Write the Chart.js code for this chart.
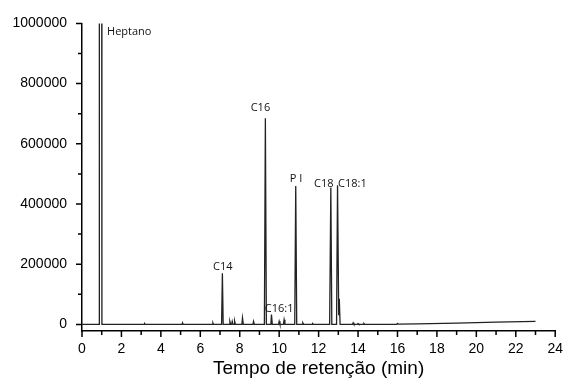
<!DOCTYPE html>
<html>
<head>
<meta charset="utf-8">
<script src="https://cdn.jsdelivr.net/npm/chart.js@4.4.1/dist/chart.umd.min.js"></script>
<style>
  html, body { margin: 0; padding: 0; background: #fff; }
  #wrap { width: 573px; height: 378px; }
</style>
</head>
<body>
<div id="wrap"><canvas id="chrom" width="573" height="378"></canvas></div>
<script>
// retention time (min) and detector signal
const times = [0, 0.87, 0.88, 1.0, 1.01, 3.15, 3.18, 3.21, 5.07, 5.1, 5.13, 6.61, 6.64, 6.67,
  7.08, 7.12, 7.16, 7.47, 7.5, 7.54, 7.59, 7.62, 7.66, 7.71, 7.74, 7.78, 8.11, 8.14, 8.18,
  8.67, 8.7, 8.74, 9.25, 9.3, 9.35, 9.58, 9.61, 9.65, 9.97, 10.0, 10.04, 10.22, 10.25, 10.29,
  10.79, 10.84, 10.89, 11.17, 11.2, 11.24, 11.67, 11.7, 11.74, 12.56, 12.62, 12.67,
  12.91, 12.96, 13.02, 13.05, 13.09, 13.72, 13.75, 13.79, 13.97, 14.0, 14.04, 14.27, 14.3, 14.34,
  15.0, 15.97, 16.0, 16.04, 17.0, 19.0, 21.0, 23.0];
const signal = [0, 0, 1200000, 1200000, 0, 0, 2500, 0, 0, 5000, 0, 0, 5000, 0,
  0, 170000, 0, 0, 10000, 0, 0, 10000, 0, 0, 11000, 0, 0, 21000, 0,
  0, 10000, 0, 0, 685000, 0, 0, 33000, 0, 0, 10000, 0, 0, 15000, 0,
  0, 460000, 0, 0, 5000, 0, 0, 2500, 0, 0, 455000, 0,
  0, 462000, 30000, 85000, 0, 0, 5000, 0, 0, 3000, 0, 0, 3000, 0,
  0, 500, 3000, 1000, 1500, 4000, 7500, 10000];

// peak labels
const peakNames = ['Heptano', 'C14', 'C16', 'P I', 'C18', 'C18:1', 'C16:1'];
const peakTimes = [1.27, 7.14, 9.05, 10.85, 12.26, 13.71, 10.0];
const peakLevels = [972000, 192000, 720000, 484000, 468000, 468000, 53000];

const xTicks = [0, 2, 4, 6, 8, 10, 12, 14, 16, 18, 20, 22, 24];
const yTicks = [0, 200000, 400000, 600000, 800000, 1000000];

const axisTicks = {
  id: 'axisTicks',
  afterDraw(chart) {
    const ctx = chart.ctx;
    const x = chart.scales.x, y = chart.scales.y;
    const area = chart.chartArea;
    ctx.save();
    ctx.strokeStyle = '#000';
    ctx.lineWidth = 1.5;
    ctx.beginPath();
    for (let v = 0; v <= 24; v++) {
      const px = x.getPixelForValue(v);
      ctx.moveTo(px, area.bottom);
      ctx.lineTo(px, area.bottom + (v % 2 === 0 ? 6 : 4));
    }
    for (let v = 0; v <= 1000000; v += 100000) {
      const py = y.getPixelForValue(v);
      ctx.moveTo(area.left, py);
      ctx.lineTo(area.left - (v % 200000 === 0 ? 6 : 4), py);
    }
    ctx.stroke();

    ctx.fillStyle = '#111';
    ctx.font = '11px "Open Sans", sans-serif';
    ctx.textBaseline = 'middle';
    peakNames.forEach((name, i) => {
      ctx.textAlign = i === 0 ? 'left' : 'center';
      ctx.fillText(name, x.getPixelForValue(peakTimes[i]), y.getPixelForValue(peakLevels[i]));
    });
    ctx.restore();
  }
};

new Chart(document.getElementById('chrom'), {
  type: 'line',
  data: {
    datasets: [{
      data: times.map((t, i) => ({ x: t, y: signal[i] })),
      borderColor: '#222',
      borderWidth: 1.3,
      pointRadius: 0,
      tension: 0,
      fill: false
    }]
  },
  options: {
    responsive: false,
    animation: false,
    layout: { padding: { top: 22, right: 13, left: 0, bottom: 0 } },
    plugins: { legend: { display: false }, tooltip: { enabled: false } },
    scales: {
      x: {
        type: 'linear',
        min: 0,
        max: 24,
        afterBuildTicks: s => { s.ticks = xTicks.map(v => ({ value: v })); },
        afterFit: s => { s.height = 47; },
        grid: { display: false, drawTicks: false },
        border: { display: true, color: '#000', width: 1.5 },
        ticks: { padding: 10, color: '#000', font: { family: '"Liberation Sans", Arial, sans-serif', size: 14 }, maxRotation: 0,
          callback: v => String(v) },
        title: {
          display: true,
          text: 'Tempo de retenção (min)',
          color: '#000',
          font: { family: '"Liberation Sans", Arial, sans-serif', size: 19, lineHeight: 1 },
          padding: { top: 0, bottom: 0 }
        }
      },
      y: {
        min: -22000,
        max: 1000000,
        afterBuildTicks: s => { s.ticks = yTicks.map(v => ({ value: v })); },
        afterFit: s => { s.width = 82; },
        grid: { display: false, drawTicks: false },
        border: { display: true, color: '#000', width: 1.5 },
        ticks: { padding: 15, color: '#000', font: { family: '"Liberation Sans", Arial, sans-serif', size: 14 },
          callback: v => String(v) }
      }
    }
  },
  plugins: [axisTicks]
});
</script>
</body>
</html>
